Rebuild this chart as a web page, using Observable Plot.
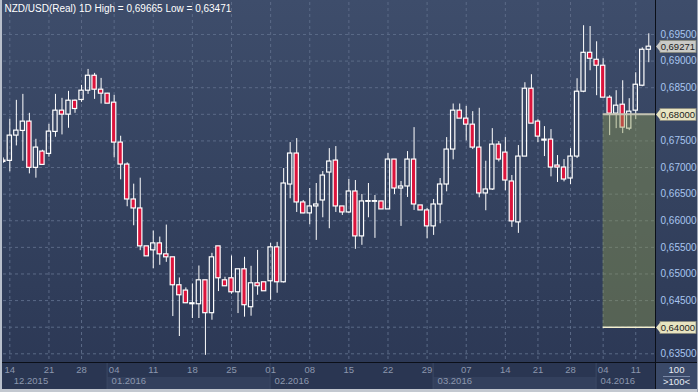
<!DOCTYPE html>
<html><head><meta charset="utf-8">
<script src="https://cdn.jsdelivr.net/npm/d3@7"></script>
<script src="https://cdn.jsdelivr.net/npm/@observablehq/plot@0.6"></script>
<style>
html,body{margin:0;padding:0;background:#2a3550;}
#chart{width:698px;height:392px;overflow:hidden;}
#chart svg{display:block;}
</style></head><body><div id="chart"></div>
<script>
const title = "NZD/USD(Real) 1D High = 0,69665 Low = 0,63471";

const opens = [0.67131,0.67125,0.6760,0.67688,0.67863,0.66994,0.673,0.67256,0.67669,0.68069,
0.67994,0.68256,0.68269,0.68444,0.68725,0.68463,0.68388,0.68219,0.67469,0.67056,
0.664,0.66231,0.65519,0.65444,0.65575,0.65369,0.65313,0.64788,0.64688,0.64431,
0.64431,0.64881,0.64263,0.65519,0.64881,0.64919,0.64656,0.65088,0.64375,0.64825,
0.64844,0.64863,0.655,0.64844,0.66681,0.67263,0.66344,0.66138,0.66269,0.66381,
0.66906,0.67131,0.66269,0.66156,0.6655,0.65706,0.66356,0.66356,0.66363,0.66213,
0.6715,0.66606,0.66644,0.6715,0.66288,0.66194,0.65894,0.66306,0.66681,0.67338,
0.68069,0.67919,0.67806,0.67375,0.66513,0.66588,0.67431,0.67281,0.66738,0.65969,
0.67206,0.68481,0.67863,0.67506,0.67525,0.67038,0.67,0.66794,0.67206,0.68425,
0.69156,0.69025,0.68913,0.68313,0.68013,0.68181,0.67731,0.68069,0.68538,0.69213];
const highs = [0.6718,0.67906,0.68263,0.68375,0.68019,0.67531,0.67325,0.67813,0.68375,0.683,
0.68431,0.68269,0.68544,0.68844,0.68769,0.68675,0.68394,0.68356,0.67588,0.67088,
0.66688,0.668,0.65519,0.65806,0.65694,0.65919,0.65313,0.64925,0.64738,0.64813,
0.6515,0.64881,0.65388,0.65519,0.64938,0.65338,0.65088,0.65313,0.65144,0.65444,
0.64844,0.65575,0.65594,0.66981,0.67469,0.67544,0.66381,0.66606,0.667,0.66925,
0.67356,0.67394,0.66269,0.66775,0.66756,0.66494,0.667,0.66475,0.66363,0.67263,
0.6715,0.66738,0.673,0.6775,0.66288,0.66231,0.664,0.66794,0.67563,0.68194,
0.68194,0.6815,0.6805,0.68113,0.67119,0.67731,0.67488,0.67563,0.6685,0.67413,
0.68594,0.68744,0.679,0.67769,0.67713,0.67225,0.6715,0.67356,0.68669,0.69665,
0.6965,0.69363,0.69044,0.6835,0.68444,0.68631,0.68294,0.68781,0.6925,0.69513];
const lows = [0.6708,0.66919,0.67406,0.67119,0.66881,0.668,0.67044,0.67194,0.67569,0.67613,
0.67738,0.68019,0.68225,0.68375,0.68281,0.68194,0.682,0.67181,0.66769,0.66263,
0.65906,0.65438,0.65331,0.651,0.65163,0.65219,0.642,0.63825,0.64444,0.64163,
0.64163,0.63471,0.64131,0.64669,0.64763,0.64619,0.64256,0.64188,0.64206,0.646,
0.64675,0.64506,0.64638,0.6483,0.66413,0.66156,0.66131,0.65925,0.65631,0.66056,
0.6585,0.66156,0.661,0.66138,0.65463,0.65538,0.66056,0.65669,0.66213,0.66213,
0.66494,0.65894,0.66438,0.66194,0.66194,0.65663,0.65725,0.65944,0.66544,0.67144,
0.67919,0.675,0.67338,0.66431,0.66188,0.66569,0.67106,0.66563,0.65875,0.65763,
0.67206,0.67825,0.67469,0.67206,0.66825,0.66719,0.66731,0.66681,0.67169,0.68406,
0.68819,0.6835,0.68313,0.676,0.67731,0.67638,0.67694,0.679,0.68519,0.6897];
const closes = [0.67106,0.6760,0.67694,0.67863,0.66994,0.67375,0.6705,0.67675,0.68069,0.67994,
0.68256,0.681,0.68444,0.68725,0.68463,0.68388,0.682,0.67469,0.67056,0.664,
0.66231,0.65519,0.65331,0.65575,0.65369,0.65313,0.64788,0.646,0.6445,0.6445,
0.64881,0.64263,0.65313,0.64919,0.64769,0.64656,0.65088,0.64413,0.64825,0.64769,
0.64675,0.655,0.64844,0.667,0.67263,0.66344,0.66138,0.66269,0.66306,0.6685,
0.67113,0.66269,0.66156,0.6655,0.65706,0.66363,0.66369,0.66369,0.66213,0.6715,
0.66606,0.66644,0.6715,0.66306,0.66194,0.65894,0.66306,0.66681,0.67338,0.68069,
0.67919,0.67806,0.67375,0.66513,0.66588,0.67431,0.6715,0.66756,0.65988,0.67206,
0.68481,0.67825,0.67581,0.67525,0.67,0.67,0.66775,0.67206,0.68425,0.69156,
0.69044,0.68913,0.68313,0.68013,0.68163,0.6775,0.6805,0.68556,0.69213,0.69271];

const tickIdx = [1,7,12,17,23,29,35,41,47,53,59,65,71,77,82,87,92,97];
const tickLabels = ["14","21","28","04","11","18","25","01","08","15","22","29","07","14","21","28","04","11"];
const monthStartIdx = [16,41,66,91];
const monthLabelIdx = [1,16,41,66,91];
const monthLabels = ["12.2015","01.2016","02.2016","03.2016","04.2016"];
const priceTicks = [0.635,0.640,0.645,0.650,0.655,0.660,0.665,0.670,0.675,0.680,0.685,0.690,0.695];
const zoneStartIdx = 92;
const zoneLevels = [0.640, 0.680];
const footerLabels = ["100", ">100<"];

const candles = opens.map((o, i) => ({i, o, h: highs[i], l: lows[i], c: closes[i], up: closes[i] >= o}));
const ups = candles.filter(d => d.up), downs = candles.filter(d => !d.up);
const fmt = v => d3.format(".5f")(v).replace(".", ",");
const xMin = 0.03, xMax = candles.length + 0.03;
const ticksRows = tickIdx.map((x, j) => ({x, label: tickLabels[j]}));
const monthRows = monthLabelIdx.map((x, j) => ({x, label: monthLabels[j]}));
const axisLabelTicks = priceTicks.filter(v => !zoneLevels.some(z => Math.abs(z - v) < 1e-9));
const lastClose = closes[closes.length - 1];
const calloutRows = [
  {v: lastClose, fill: "#cacac6"},
  {v: zoneLevels[1], fill: "#e8e4c1"},
  {v: zoneLevels[0], fill: "#e8e4c1"}
];

function decor(index, scales, values, dim) {
  const {width, height, marginLeft, marginRight, marginBottom} = dim;
  const x = scales.x;
  const right = width - marginRight, bottom = height - marginBottom;
  const g = d3.create("svg:g");
  g.append("rect").attr("x", 0).attr("y", bottom).attr("width", width).attr("height", marginBottom).attr("fill", "#2a3652");
  const bounds = [marginLeft, ...monthStartIdx.map(v => x(v)), right];
  for (let j = 0; j < bounds.length - 1; j++) {
    if (j % 2 === 1) g.append("rect").attr("x", bounds[j]).attr("y", bottom + 15).attr("width", bounds[j + 1] - bounds[j]).attr("height", 12).attr("fill", "#33405d");
  }
  monthStartIdx.forEach(v => g.append("line").attr("x1", x(v)).attr("x2", x(v)).attr("y1", bottom + 1).attr("y2", bottom + 27).attr("stroke", "#3c4965"));
  g.append("rect").attr("x", right).attr("y", bottom).attr("width", marginRight).attr("height", 27).attr("fill", "#3a4968");
  g.append("line").attr("x1", right + 8).attr("x2", width - 8).attr("y1", bottom + 14.5).attr("y2", bottom + 14.5).attr("stroke", "#7b8aa8");
  footerLabels.forEach((t, j) => g.append("text").attr("x", right + marginRight / 2).attr("y", bottom + 8 + j * 12).attr("dy", "0.35em")
    .attr("text-anchor", "middle").attr("font-size", 9.5).attr("fill", "#e6ebf3").text(t));
  g.append("line").attr("x1", right + 0.5).attr("x2", right + 0.5).attr("y1", 0).attr("y2", height).attr("stroke", "#0b0f18");
  g.append("line").attr("x1", 0).attr("x2", width).attr("y1", bottom + 0.5).attr("y2", bottom + 0.5).attr("stroke", "#0b0f18");
  g.append("rect").attr("x", 0).attr("y", 0).attr("width", 2).attr("height", height).attr("fill", "#b9c0cc");
  g.append("rect").attr("x", 0).attr("y", height - 3).attr("width", width).attr("height", 3).attr("fill", "#c3c8d0");
  g.append("rect").attr("x", width - 1).attr("y", 0).attr("width", 1).attr("height", height).attr("fill", "#9aa3b3");
  return g.node();
}

function callouts(index, scales, values, dim) {
  const g = d3.create("svg:g");
  const x0 = dim.width - dim.marginRight + 1, x1 = dim.width - 2;
  calloutRows.forEach(({v, fill}) => {
    const y = Math.round(scales.y(v)) + 0.5;
    g.append("rect").attr("x", x0 + 4).attr("y", y - 6).attr("width", x1 - x0 - 4).attr("height", 12)
      .attr("fill", fill).attr("stroke", "#8a8a7c").attr("stroke-width", 0.8);
    g.append("polygon").attr("points", `${x0},${y} ${x0 + 4.6},${y - 5.6} ${x0 + 4.6},${y + 5.6}`).attr("fill", fill);
    g.append("text").attr("x", x1 - 1).attr("y", y).attr("dy", "0.35em").attr("text-anchor", "end")
      .attr("font-size", 9.5).attr("fill", "#1c1c1c").style("fill", "#1c1c1c").text(fmt(v));
  });
  return g.node();
}

const chart = Plot.plot({
  width: 698, height: 392,
  marginLeft: 3, marginRight: 43, marginTop: 2, marginBottom: 30,
  style: {background: "linear-gradient(to bottom, #3e4d6b 0%, #34425f 50%, #2b3754 100%)", fontFamily: "'Liberation Sans', Arial, sans-serif", color: "white"},
  x: {type: "linear", domain: [xMin, xMax], axis: null},
  y: {domain: [0.633365, 0.701013], axis: null},
  marks: [
    decor,
    Plot.ruleY(priceTicks, {y: d => d, stroke: "#5b6a87", strokeDasharray: "3,3"}),
    Plot.ruleX(tickIdx, {x: d => d, stroke: "#5b6a87", strokeDasharray: "3,3"}),
    Plot.ruleX(candles, {x: "i", y1: d => Math.max(d.o, d.c), y2: "h", stroke: "white", clip: true}),
    Plot.ruleX(candles, {x: "i", y1: "l", y2: d => Math.min(d.o, d.c), stroke: "white", clip: true}),
    Plot.rect(ups, {x1: d => d.i - 0.33, x2: d => d.i + 0.33, y1: "o", y2: "c", fill: "none", stroke: "white", strokeWidth: 1.2, clip: true}),
    Plot.rect(downs, {x1: d => d.i - 0.33, x2: d => d.i + 0.33, y1: "o", y2: "c", fill: "#dc143c", stroke: "white", strokeWidth: 1.2, clip: true}),
    Plot.rect([zoneLevels], {x1: zoneStartIdx, x2: xMax, y1: d => d[0], y2: d => d[1], fill: "#8e9a52", fillOpacity: 0.42}),
    Plot.ruleY([zoneLevels[1]], {y: d => d, x1: zoneStartIdx, x2: xMax, stroke: "#c4c3b3", strokeWidth: 2}),
    Plot.ruleY([zoneLevels[0]], {y: d => d, x1: zoneStartIdx, x2: xMax, stroke: "#f4f0cf", strokeWidth: 1.5}),
    Plot.text([title], {frameAnchor: "top-left", dx: 1, dy: 6, text: d => d, textAnchor: "start", lineAnchor: "middle", fill: "white", fontSize: 10}),
    Plot.text(axisLabelTicks, {y: d => d, frameAnchor: "right", dx: 5, text: fmt, textAnchor: "start", fill: "#a9c6f0", fontSize: 10}),
    callouts,
    Plot.text(ticksRows, {x: "x", text: "label", frameAnchor: "bottom", dy: 10, fill: "#8c97ae", fontSize: 9.5}),
    Plot.text(monthRows, {x: "x", text: "label", frameAnchor: "bottom", dy: 21, dx: 4, textAnchor: "start", fill: "#8c97ae", fontSize: 9.5})
  ]
});
document.getElementById("chart").appendChild(chart);
</script></body></html>
